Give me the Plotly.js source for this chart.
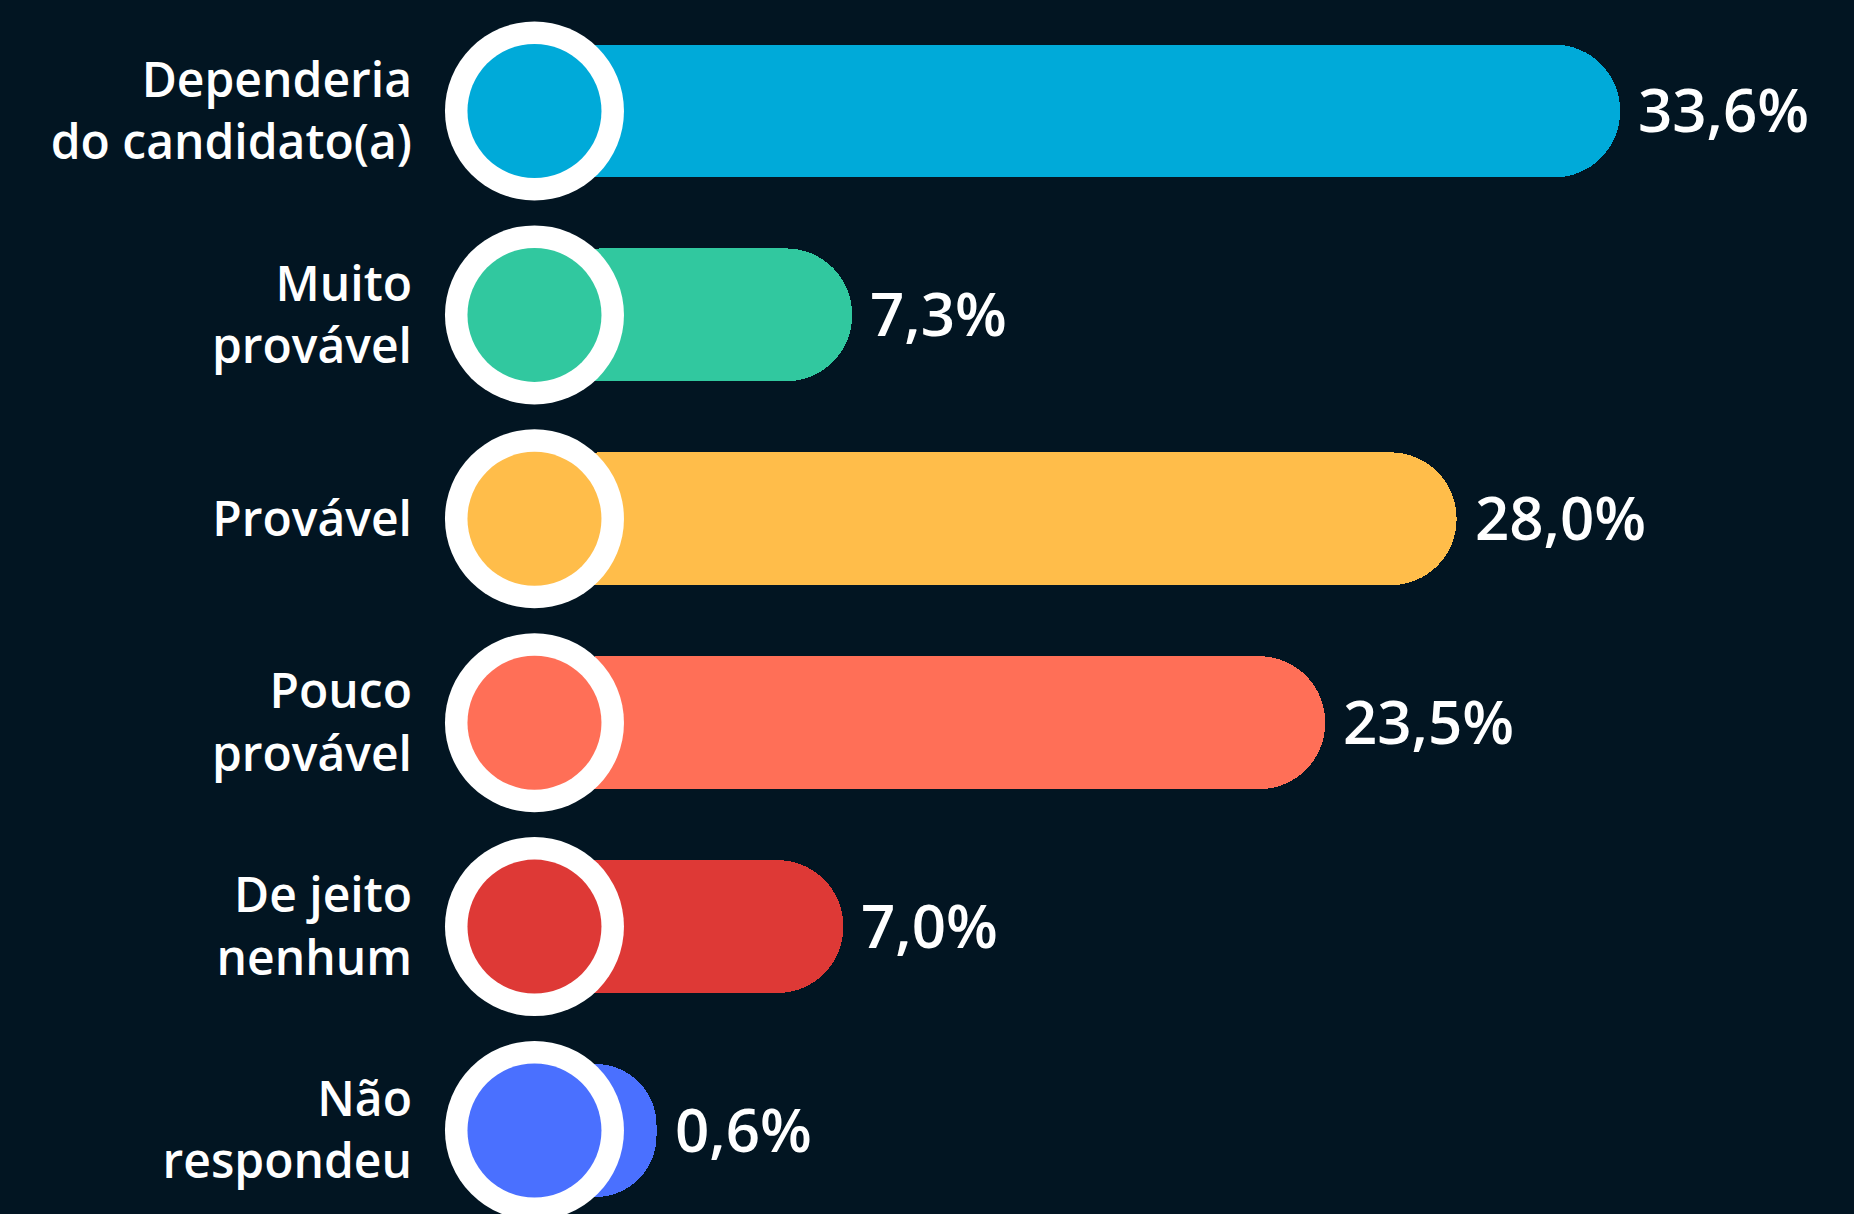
<!DOCTYPE html>
<html>
<head>
<meta charset="utf-8">
<script src="https://cdn.plot.ly/plotly-3.0.1.min.js"></script>
<style>
  html, body { margin: 0; padding: 0; background: #021522; }
  #chart { width: 1854px; height: 1214px; }
</style>
</head>
<body>
<div id="chart"></div>
<script>
// ---- data ----
const categories = [
  "Dependeria<br>do candidato(a)",
  "Muito<br>provável",
  "Provável",
  "Pouco<br>provável",
  "De jeito<br>nenhum",
  "Não<br>respondeu"
];
const values = [33.6, 7.3, 28.0, 23.5, 7.0, 0.6];
const valueLabels = ["33,6%", "7,3%", "28,0%", "23,5%", "7,0%", "0,6%"];
const barColors = ["#00AAD9", "#31C89F", "#FFBD4A", "#FF6F57", "#DE3936", "#4A70FF"];

// ---- styling constants ----
const BG = "#021522";
const circleX = -3.58;          // where each bar starts (circle centre), in axis units
const FONT = "Open Sans, Noto Sans, sans-serif";

const bars = {
  type: "bar",
  orientation: "h",
  y: categories,
  x: values.map(v => v - circleX),
  base: circleX,
  width: 0.652,
  marker: { color: barColors, cornerradius: "50%", line: { width: 0 } },
  hoverinfo: "skip",
  showlegend: false
};

const ringOuter = {
  type: "scatter",
  mode: "markers",
  y: categories,
  x: categories.map(() => circleX),
  marker: { size: 179, color: "#FFFFFF", line: { width: 0 } },
  hoverinfo: "skip",
  showlegend: false,
  cliponaxis: false
};

const ringInner = {
  type: "scatter",
  mode: "markers",
  y: categories,
  x: categories.map(() => circleX),
  marker: { size: 134, color: barColors, line: { width: 0 } },
  hoverinfo: "skip",
  showlegend: false,
  cliponaxis: false
};

const annotations = values.map((v, i) => ({
  x: v,
  y: categories[i],
  xref: "x",
  yref: "y",
  text: valueLabels[i],
  showarrow: false,
  xanchor: "left",
  yanchor: "middle",
  xshift: 16,
  yshift: 2,
  font: { family: FONT, size: 60, color: "#FFFFFF", weight: 600 }
}));

const layout = {
  width: 1854,
  height: 1214,
  paper_bgcolor: BG,
  plot_bgcolor: BG,
  margin: { l: 413, r: 0, t: 0, b: 0, pad: 0 },
  bargap: 0,
  xaxis: {
    range: [-7.74, 41.61],
    visible: false,
    fixedrange: true
  },
  yaxis: {
    type: "category",
    range: [5.4095, -0.5444],
    showgrid: false,
    zeroline: false,
    showline: false,
    ticks: "",
    ticklabelstandoff: 0,
    tickfont: { family: FONT, size: 48, color: "#FFFFFF", weight: 600 },
    automargin: false,
    fixedrange: true
  },
  annotations: annotations,
  showlegend: false
};

Plotly.newPlot("chart", [bars, ringOuter, ringInner], layout, { displayModeBar: false, staticPlot: true });
</script>
</body>
</html>
